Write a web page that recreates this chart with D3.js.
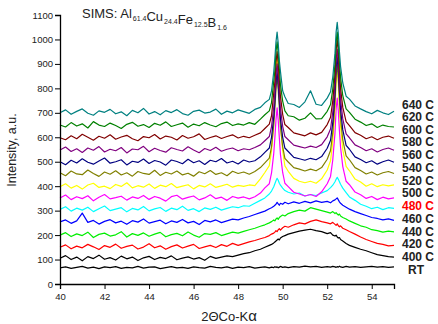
<!DOCTYPE html>
<html>
<head>
<meta charset="utf-8">
<script src="https://cdn.jsdelivr.net/npm/d3@7"></script>
<style>
body { margin: 0; background: #fff; }
text { font-family: "Liberation Sans", Arial, sans-serif; }
</style>
</head>
<body>
<svg id="chart" width="438" height="324"></svg>
<script>
// 2-theta grid (deg), finer around the two sharp reflections
var two_theta = [40, 40.25, 40.5, 40.75, 41, 41.25, 41.5, 41.75, 42, 42.25, 42.5, 42.75, 43, 43.25, 43.5, 43.75,
    44, 44.25, 44.5, 44.75, 45, 45.25, 45.5, 45.75, 46, 46.25, 46.5, 46.75, 47, 47.25, 47.5, 47.75, 48, 48.25, 48.5, 48.75,
    49, 49.2, 49.4, 49.5, 49.6, 49.65, 49.7, 49.75, 49.8, 49.85, 49.9, 50, 50.1, 50.25,
    50.5, 50.75, 51, 51.25, 51.5, 51.75, 52,
    52.15, 52.25, 52.35, 52.4, 52.45, 52.5, 52.55, 52.6, 52.7, 52.85,
    53, 53.25, 53.5, 53.75, 54, 54.25, 54.5, 54.75, 55]

// intensities (a.u., already offset)
var int_rt = [66, 70, 64, 68, 72, 65, 69, 63, 70, 67, 71, 64, 68, 66, 72, 65, 69, 70, 63, 67, 71, 66, 68, 64, 70, 67, 65, 72, 68, 66,
    70, 64, 69, 67, 71, 65, 68, 70, 66, 69, 67, 71, 68, 70, 66, 69, 72, 68, 70, 67, 71, 69, 73, 70, 72, 68, 71, 69, 72, 70,
    68, 71, 69, 73, 70, 68, 72, 69, 71, 68, 70, 72, 69, 71, 68, 70]
var int_400 = [105, 116, 100, 110, 95, 112, 104, 118, 101, 108, 98, 114, 103, 110, 96, 107, 113, 100, 109, 104,
    115, 99, 106, 111, 102, 108, 97, 113, 105, 110, 115, 112, 118, 124, 128, 136,
    142, 150, 158, 162, 168, 172, 176, 180, 184, 180, 188, 194, 198, 204, 210, 216, 220, 224, 218, 214,
    206, 210, 200, 196, 200, 192, 188, 190, 182, 176, 166, 158, 150, 142, 136, 128, 120, 116, 112, 110]
var int_420 = [150, 160, 144, 155, 148, 162, 152, 141, 157, 150, 163, 146, 154, 159, 143, 151, 165, 148, 156, 142,
    153, 160, 147, 155, 162, 145, 152, 158, 149, 161, 154, 166, 158, 165, 172, 178,
    185, 190, 198, 204, 208, 212, 218, 214, 222, 226, 220, 230, 236, 232, 242, 250, 246, 256, 262, 255,
    250, 246, 252, 244, 240, 246, 238, 234, 238, 228, 222, 215, 204, 192, 182, 174, 166, 162, 156, 158]
var int_440 = [200, 210, 194, 205, 198, 212, 190, 203, 208, 196, 201, 214, 192, 206, 199, 209, 195, 204, 211, 193,
    202, 207, 197, 213, 200, 191, 206, 203, 210, 198, 205, 212, 208, 215, 222, 228,
    236, 242, 250, 255, 262, 258, 266, 270, 264, 272, 276, 282, 278, 288, 296, 302, 298, 312, 306, 300,
    294, 290, 296, 288, 292, 286, 282, 286, 278, 272, 266, 258, 248, 238, 232, 222, 218, 212, 216, 213]
var int_460 = [254, 262, 248, 258, 290, 252, 260, 245, 256, 263, 250, 257, 244, 259, 253, 266, 249, 255, 261, 246,
    258, 252, 264, 250, 256, 243, 260, 254, 262, 251, 258, 265, 262, 270, 276, 284,
    292, 298, 308, 312, 318, 322, 326, 334, 328, 322, 330, 326, 334, 328, 336, 330, 338, 332, 340, 334,
    338, 332, 340, 344, 348, 352, 344, 336, 330, 322, 314, 306, 296, 288, 280, 272, 268, 262, 266, 260]
var int_480 = [305, 316, 298, 310, 302, 314, 296, 308, 319, 300, 306, 312, 295, 309, 303, 317, 299, 307, 313, 297,
    310, 304, 318, 301, 308, 296, 311, 305, 314, 302, 309, 316, 312, 320, 318, 330,
    342, 352, 368, 380, 398, 410, 422, 432, 424, 412, 404, 392, 382, 375, 368, 372, 360, 366, 362, 372,
    382, 394, 404, 418, 428, 436, 428, 418, 408, 392, 374, 356, 342, 326, 318, 308, 314, 304, 312, 309]
var int_500 = [352, 364, 345, 357, 349, 361, 340, 355, 366, 348, 353, 359, 343, 356, 350, 362, 346, 358, 351, 339,
    357, 363, 347, 354, 360, 344, 352, 365, 349, 355, 342, 358, 351, 356, 348, 357,
    372, 393, 410, 454, 534, 598, 672, 720, 670, 598, 530, 456, 412, 398, 375, 368, 360, 366, 358, 377,
    410, 440, 507, 618, 716, 760, 707, 626, 559, 480, 420, 406, 376, 365, 350, 358, 345, 355, 348, 352]
var int_520 = [398, 410, 392, 403, 388, 405, 412, 395, 400, 390, 407, 399, 414, 393, 402, 396, 409, 391, 404, 398,
    411, 394, 400, 406, 389, 403, 397, 410, 395, 401, 408, 396, 403, 399, 405, 402,
    430, 456, 484, 544, 665, 752, 862, 930, 860, 754, 655, 545, 483, 461, 432, 420, 414, 420, 412, 430,
    466, 504, 582, 712, 826, 880, 818, 722, 644, 549, 481, 463, 429, 417, 400, 410, 398, 406, 401, 405]
var int_540 = [455, 443, 462, 450, 447, 466, 452, 440, 458, 449, 463, 446, 455, 441, 460, 452, 448, 465, 444, 457,
    450, 462, 446, 453, 441, 459, 451, 464, 448, 455, 443, 461, 452, 458, 449, 460,
    476, 495, 515, 562, 650, 718, 798, 850, 795, 720, 642, 562, 514, 499, 476, 470, 462, 470, 463, 476,
    510, 546, 619, 743, 850, 900, 840, 752, 677, 589, 524, 508, 476, 464, 450, 458, 446, 455, 460, 452]
var int_560 = [500, 488, 506, 495, 512, 498, 490, 503, 515, 494, 500, 508, 487, 502, 497, 511, 493, 505, 499, 486,
    507, 501, 492, 510, 496, 504, 489, 506, 500, 513, 495, 502, 491, 507, 499, 504,
    520, 538, 556, 600, 684, 746, 822, 870, 818, 748, 676, 600, 556, 542, 518, 512, 506, 514, 508, 521,
    555, 588, 660, 778, 882, 930, 872, 786, 715, 630, 567, 551, 520, 509, 496, 504, 490, 500, 507, 498]
var int_580 = [548, 560, 542, 553, 538, 556, 547, 562, 540, 551, 545, 558, 536, 552, 549, 563, 541, 555, 546, 539,
    557, 550, 544, 561, 548, 537, 554, 546, 559, 543, 551, 556, 545, 553, 549, 558,
    569, 586, 603, 644, 724, 782, 855, 900, 852, 784, 718, 645, 603, 590, 568, 562, 556, 564, 558, 570,
    602, 634, 703, 815, 914, 960, 906, 822, 755, 675, 614, 598, 569, 558, 545, 553, 540, 550, 556, 547]
var int_600 = [598, 590, 606, 594, 612, 600, 588, 604, 596, 610, 592, 601, 608, 594, 586, 603, 598, 611, 593, 605,
    600, 589, 607, 596, 602, 614, 591, 599, 606, 595, 603, 610, 597, 604, 598, 608,
    618, 636, 654, 688, 782, 826, 905, 950, 902, 832, 768, 694, 652, 640, 618, 612, 606, 618, 610, 620,
    652, 682, 749, 858, 955, 1000, 948, 866, 800, 722, 664, 648, 619, 608, 594, 602, 590, 600, 605, 596]
var int_620 = [650, 642, 660, 646, 655, 638, 664, 650, 644, 658, 648, 636, 653, 661, 645, 652, 640, 657, 649, 663,
    644, 651, 658, 641, 654, 647, 660, 650, 643, 656, 662, 648, 655, 650, 660, 653,
    674, 692, 708, 742, 830, 872, 950, 990, 945, 880, 815, 748, 708, 688, 684, 670, 678, 700, 675, 676,
    706, 734, 797, 898, 988, 1030, 980, 905, 845, 770, 716, 702, 674, 662, 648, 655, 640, 650, 644, 642]
var int_640 = [700, 712, 694, 706, 716, 698, 690, 708, 702, 714, 696, 704, 688, 710, 700, 718, 695, 705, 692, 709,
    701, 713, 697, 690, 706, 711, 699, 703, 715, 694, 707, 700, 712, 705, 698, 714,
    722, 741, 755, 790, 868, 924, 990, 1030, 985, 915, 870, 790, 766, 738, 734, 722, 745, 790, 735, 730,
    760, 786, 846, 944, 1030, 1070, 1022, 950, 890, 822, 768, 756, 728, 716, 705, 696, 710, 700, 693, 706]

var series_names = ["RT", "400 C", "420 C", "440 C", "460 C", "480 C", "500 C", "520 C", "540 C", "560 C", "580 C", "600 C", "620 C", "640 C"]
var series_values = [int_rt, int_400, int_420, int_440, int_460, int_480, int_500, int_520, int_540, int_560, int_580, int_600, int_620, int_640]
// intensity level where each right-hand label sits
var label_levels = [57, 110, 163, 215, 267, 320, 372, 424, 476, 528, 580, 632, 683, 735]

var x_ticks = [40, 42, 44, 46, 48, 50, 52, 54]
var y_ticks = [0, 100, 200, 300, 400, 500, 600, 700, 800, 900, 1000, 1100]

// Origin default palette, bottom trace first
var palette = ["#000000", "#000000", "#ff0000", "#00ee00", "#0000ff", "#00ffff", "#ff00ff", "#ffff00",
    "#808000", "#000080", "#800080", "#800000", "#008000", "#008080"]


function XrdChart() {

    this.draw_from_scratch = function() {

        var svg = d3.select("#chart")
        svg.selectAll("*").remove()

        me.x = d3.scaleLinear().domain([40, 55]).range([60, 394])
        me.y = d3.scaleLinear().domain([0, 1100]).range([284, 15])

        me.draw_traces(svg)
        me.draw_axes(svg)
        me.draw_labels(svg)
    }


    this.draw_traces = function(svg) {

        var line = d3.line()
            .x(function(d) { return me.x(d[0]) })
            .y(function(d) { return me.y(d[1]) })

        var traces = series_values.map(function(vals, i) {
            var n = Math.min(vals.length, two_theta.length)
            return { name: series_names[i], pts: two_theta.slice(0, n).map(function(t, j) { return [t, vals[j]] }) }
        })

        svg.append("g").attr("class", "traces")
            .selectAll("path")
            .data(traces)
            .enter()
            .append("path")
            .attr("d", function(d) { return line(d.pts) })
            .attr("fill", "none")
            .attr("stroke", function(d, i) { return palette[i] })
            .attr("stroke-width", 1.2)
            .attr("stroke-linejoin", "round")
    }


    this.draw_axes = function(svg) {

        var xa = svg.append("g").attr("transform", "translate(0,284)")
        xa.call(d3.axisBottom(me.x).tickValues(d3.range(40, 55.5, 1)).tickSize(3).tickFormat(""))
        xa.call(d3.axisBottom(me.x).tickValues(x_ticks).tickSize(5).tickFormat(d3.format("d")))

        var ya = svg.append("g").attr("transform", "translate(60,0)")
        ya.call(d3.axisLeft(me.y).tickValues(d3.range(0, 1101, 50)).tickSize(3).tickFormat(""))
        ya.call(d3.axisLeft(me.y).tickValues(y_ticks).tickSize(5).tickFormat(d3.format("d")))

        svg.selectAll(".domain").attr("stroke", "#000").attr("stroke-width", 1.3)
        svg.selectAll(".tick line").attr("stroke", "#000").attr("stroke-width", 1)
        svg.selectAll(".tick text")
            .attr("fill", "#222")
            .style("font-size", "9.5px")
            .style("font-family", "'Liberation Sans', Arial, sans-serif")
        xa.selectAll(".tick text").attr("y", 9)
        ya.selectAll(".tick text").attr("x", -7)

        // axis titles
        svg.append("text")
            .attr("transform", "translate(16,150) rotate(-90)")
            .attr("text-anchor", "middle")
            .attr("fill", "#222")
            .style("font-size", "12.5px")
            .text("Intensity, a.u.")

        var xt = svg.append("text")
            .attr("x", 229).attr("y", 321)
            .attr("text-anchor", "middle")
            .attr("fill", "#222")
            .style("font-size", "13px")
        xt.append("tspan").text("2Θ")
        xt.append("tspan").text("Co-K")
        xt.append("tspan").style("font-size", "15px").text("α")

        // title with subscripts
        var title = svg.append("text")
            .attr("x", 82).attr("y", 18)
            .attr("fill", "#222")
            .style("font-size", "13px")
        var parts = [["SIMS: Al", "61.4"], ["Cu", "24.4"], ["Fe", "12.5"], ["B", "1.6"]]
        parts.forEach(function(p) {
            title.append("tspan").attr("dy", 0).text(p[0])
            title.append("tspan").attr("dy", 3).attr("dx", 1).style("font-size", "7px").text(p[1])
            title.append("tspan").attr("dy", -3).attr("dx", 1).text("")
        })
    }


    this.draw_labels = function(svg) {

        svg.append("g").attr("class", "labels")
            .selectAll("text")
            .data(series_names)
            .enter()
            .append("text")
            .attr("x", function(d) { return d == "RT" ? 408 : 402 })
            .attr("y", function(d, i) { return me.y(label_levels[i]) })
            .attr("dy", "0.36em")
            .attr("fill", function(d) { return d == "480 C" ? "#ff0000" : "#222" })
            .style("font-size", "12px")
            .style("font-weight", "bold")
            .text(function(d) { return d })
    }

    var me = this;
    this.draw_from_scratch()

}

new XrdChart()
</script>
</body>
</html>
